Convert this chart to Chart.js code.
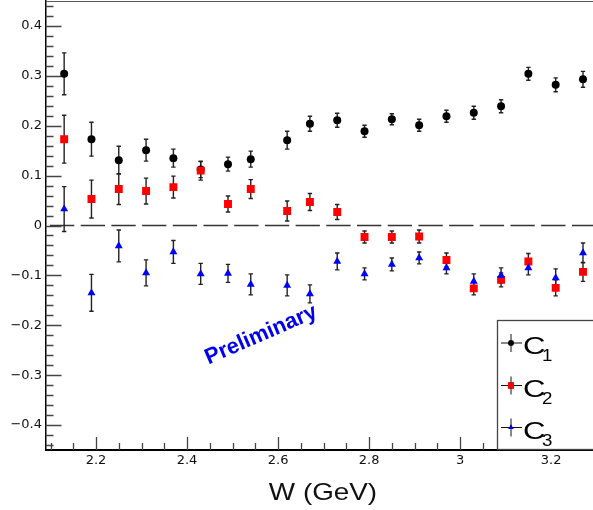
<!DOCTYPE html>
<html>
<head>
<meta charset="utf-8">
<script src="https://cdn.jsdelivr.net/npm/chart.js@4.4.0/dist/chart.umd.min.js"></script>
<style>
html, body { margin: 0; padding: 0; background: #fff; }
</style>
</head>
<body>
<canvas id="chart" width="593" height="510"></canvas>
<script>
// W bins and the three coefficients with their errors
const wValues = [2.13, 2.19, 2.25, 2.31, 2.37, 2.43, 2.49, 2.54, 2.62, 2.67, 2.73, 2.79, 2.85, 2.91, 2.97, 3.03, 3.09, 3.15, 3.21, 3.27];
const c1 = [0.304, 0.173, 0.131, 0.151, 0.135, 0.112, 0.123, 0.133, 0.171, 0.204, 0.211, 0.189, 0.213, 0.201, 0.219, 0.226, 0.239, 0.304, 0.282, 0.293];
const c1Err = [0.042, 0.034, 0.028, 0.022, 0.018, 0.016, 0.014, 0.016, 0.018, 0.015, 0.014, 0.012, 0.011, 0.012, 0.012, 0.013, 0.013, 0.013, 0.014, 0.016];
const c2 = [0.173, 0.053, 0.073, 0.069, 0.077, 0.110, 0.043, 0.073, 0.029, 0.047, 0.027, -0.023, -0.023, -0.022, -0.069, -0.126, -0.109, -0.072, -0.125, -0.093];
const c2Err = [0.048, 0.038, 0.031, 0.026, 0.022, 0.019, 0.016, 0.019, 0.020, 0.017, 0.015, 0.012, 0.012, 0.013, 0.014, 0.013, 0.014, 0.016, 0.016, 0.019];
const c3 = [0.033, -0.135, -0.041, -0.095, -0.053, -0.097, -0.096, -0.118, -0.120, -0.137, -0.072, -0.097, -0.078, -0.065, -0.085, -0.112, -0.100, -0.085, -0.105, -0.055];
const c3Err = [0.045, 0.037, 0.032, 0.026, 0.023, 0.021, 0.018, 0.021, 0.021, 0.018, 0.017, 0.012, 0.013, 0.012, 0.012, 0.015, 0.015, 0.014, 0.018, 0.020];

const xTicks = [2.2, 2.4, 2.6, 2.8, 3.0, 3.2];
const yTicks = [-0.4, -0.3, -0.2, -0.1, 0, 0.1, 0.2, 0.3, 0.4];
const seriesNames = ['C1', 'C2', 'C3'];
const xTitle = 'W (GeV)';

const FONT = 'Liberation Sans';
const TICKFONT = 'DejaVu Sans';

const points = (vals, errs) => vals.map((v, i) => ({ x: wValues[i], y: v, err: errs[i] }));

function fmtY(v) {
    if (Math.abs(v) < 1e-9) return '0';
    return (v < 0 ? '\u2212' : '') + Math.abs(v).toFixed(1);
}

// text a bit wider than the font, like the original rendering
function wideText(ctx, text, x, y, sx) {
    ctx.save();
    ctx.translate(x, y);
    ctx.scale(sx, 1);
    ctx.fillText(text, 0, 0);
    ctx.restore();
}

// zero line, error bars, ticks pointing inside the frame
const frame = {
    id: 'frame',
    beforeDatasetsDraw(chart) {
        const { ctx, chartArea: a, scales: { x, y } } = chart;
        ctx.save();

        // dashed line at 0
        const y0 = y.getPixelForValue(0);
        ctx.strokeStyle = '#333';
        ctx.lineWidth = 1.5;
        ctx.setLineDash([24.3, 6.4]);
        ctx.beginPath();
        ctx.moveTo(50, y0);
        ctx.lineTo(a.right, y0);
        ctx.stroke();
        ctx.setLineDash([]);

        // error bars
        ctx.strokeStyle = '#222';
        ctx.lineWidth = 1.4;
        chart.data.datasets.forEach(ds => {
            ds.data.forEach(p => {
                const px = x.getPixelForValue(p.x);
                const top = y.getPixelForValue(p.y + p.err);
                const bot = y.getPixelForValue(p.y - p.err);
                ctx.beginPath();
                ctx.moveTo(px, top); ctx.lineTo(px, bot);
                ctx.moveTo(px - 2.2, top); ctx.lineTo(px + 2.2, top);
                ctx.moveTo(px - 2.2, bot); ctx.lineTo(px + 2.2, bot);
                ctx.stroke();
            });
        });

        // ticks
        ctx.strokeStyle = '#444';
        ctx.lineWidth = 1.3;
        ctx.beginPath();
        for (let k = -22; k <= 22; k++) {
            const py = Math.round(y.getPixelForValue(k * 0.02)) + 0.5;
            const len = (k % 5 === 0) ? 16 : 8;
            ctx.moveTo(a.left, py); ctx.lineTo(a.left + len, py);
        }
        for (let k = 42; k <= 66; k++) {
            const px = Math.round(x.getPixelForValue(k * 0.05)) + 0.5;
            if (px < a.left || px > a.right) continue;
            const len = (k % 4 === 0) ? 13 : 7;
            ctx.moveTo(px, a.bottom); ctx.lineTo(px, a.bottom - len);
        }
        ctx.stroke();

        // top frame line
        ctx.strokeStyle = '#555';
        ctx.lineWidth = 1.2;
        ctx.beginPath();
        ctx.moveTo(a.left, a.top + 0.5);
        ctx.lineTo(a.right, a.top + 0.5);
        ctx.stroke();
        ctx.restore();
    },
    afterDraw(chart) {
        const { ctx, chartArea: a } = chart;
        ctx.save();

        // axis title
        ctx.fillStyle = '#111';
        ctx.font = '24px ' + FONT;
        ctx.textAlign = 'center';
        ctx.textBaseline = 'alphabetic';
        wideText(ctx, xTitle, 323, 500, 1.16);

        // Preliminary stamp
        ctx.translate(261, 335);
        ctx.rotate(-23.5 * Math.PI / 180);
        ctx.fillStyle = '#0000f0';
        ctx.font = 'bold 22px ' + FONT;
        ctx.textAlign = 'center';
        ctx.textBaseline = 'middle';
        ctx.fillText('Preliminary', 0, 0);
        ctx.setTransform(1, 0, 0, 1, 0, 0);

        // legend box
        ctx.fillStyle = '#fff';
        ctx.fillRect(497.5, 320.5, 100, a.bottom - 321);
        ctx.strokeStyle = '#444';
        ctx.lineWidth = 1.3;
        ctx.strokeRect(497.5, 320.5, 100, a.bottom - 321);

        const rowY = [343, 385.5, 427.5];
        chart.data.datasets.forEach((ds, i) => {
            const cy = rowY[i], cx = 511;
            ctx.strokeStyle = '#111';
            ctx.lineWidth = 1;
            ctx.beginPath();
            ctx.moveTo(cx, cy - 9); ctx.lineTo(cx, cy + 9);
            ctx.moveTo(cx - 10, cy); ctx.lineTo(cx + 11, cy);
            ctx.stroke();
            Chart.helpers.drawPoint(ctx, {
                pointStyle: ds.pointStyle,
                radius: ds.pointStyle === 'rect' ? 4.3 : 3,
                borderWidth: 0
            }, cx, cy);
            ctx.fillStyle = ds.backgroundColor;
            ctx.fill();

            ctx.fillStyle = '#000';
            ctx.textAlign = 'left';
            ctx.textBaseline = 'alphabetic';
            ctx.font = '24px ' + FONT;
            wideText(ctx, seriesNames[i].charAt(0), 523, cy + 11, 1.3);
            ctx.font = '17px ' + FONT;
            wideText(ctx, seriesNames[i].slice(1), 542, cy + 18, 1.1);
        });
        ctx.restore();
    }
};

const chart = new Chart(document.getElementById('chart'), {
    type: 'scatter',
    data: {
        datasets: [{
            label: seriesNames[0],
            data: points(c1, c1Err),
            pointStyle: 'circle',
            pointRadius: 4,
            backgroundColor: '#000',
            borderWidth: 0,
            order: 3
        }, {
            label: seriesNames[1],
            data: points(c2, c2Err),
            pointStyle: 'rect',
            pointRadius: 5.6,
            backgroundColor: '#ff0000',
            borderWidth: 0,
            order: 2
        }, {
            label: seriesNames[2],
            data: points(c3, c3Err),
            pointStyle: 'triangle',
            pointRadius: 4.6,
            backgroundColor: '#0000ff',
            borderWidth: 0,
            order: 1
        }]
    },
    options: {
        responsive: false,
        animation: false,
        devicePixelRatio: 1,
        layout: { autoPadding: false, padding: { top: 1, right: 0, bottom: 0, left: 0 } },
        plugins: { legend: { display: false }, tooltip: { enabled: false } },
        scales: {
            x: {
                type: 'linear',
                min: 2.089,
                max: 3.292,
                afterFit: s => { s.height = 60; s.paddingLeft = 0; s.paddingRight = 0; },
                afterBuildTicks: s => { s.ticks = xTicks.map(v => ({ value: v })); },
                grid: { display: false, drawTicks: false },
                border: { display: true, color: '#000', width: 2 },
                ticks: {
                    font: { family: TICKFONT, size: 13 },
                    color: '#111',
                    padding: 3,
                    maxRotation: 0,
                    autoSkip: false,
                    callback: v => String(+v.toFixed(1))
                }
            },
            y: {
                type: 'linear',
                min: -0.45,
                max: 0.45,
                afterFit: s => { s.width = 45.5; s.paddingTop = 0; s.paddingBottom = 0; },
                afterBuildTicks: s => { s.ticks = yTicks.map(v => ({ value: v })); },
                grid: { display: false, drawTicks: false },
                border: { display: true, color: '#000', width: 1.5 },
                ticks: {
                    font: { family: TICKFONT, size: 13 },
                    color: '#111',
                    padding: 3.5,
                    callback: v => fmtY(v)
                }
            }
        }
    },
    plugins: [frame]
});
</script>
</body>
</html>
